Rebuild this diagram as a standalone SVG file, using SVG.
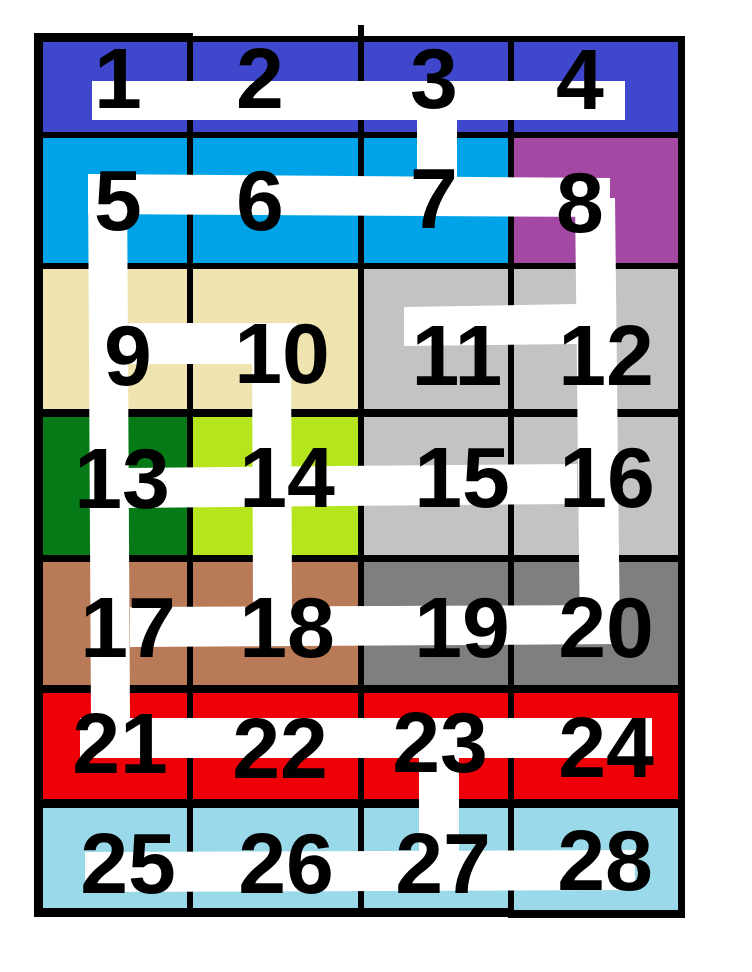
<svg xmlns="http://www.w3.org/2000/svg" width="752" height="972" viewBox="0 0 752 972">
<style>
.n{font-family:"Liberation Sans",Arial,sans-serif;font-weight:bold;font-size:86px;fill:#000;text-anchor:middle}
.ln{fill:#000}
.w{fill:#fff}
</style>
<rect width="752" height="972" fill="#fff"/>
<g id="cells">
<g id="c1"><rect x="38" y="39" width="152" height="96" fill="#3F48CC"/></g>
<g id="c2"><rect x="190" y="39" width="171" height="96" fill="#3F48CC"/></g>
<g id="c3"><rect x="361" y="39" width="150" height="96" fill="#3F48CC"/></g>
<g id="c4"><rect x="511" y="39" width="171" height="96" fill="#3F48CC"/></g>
<g id="c5"><rect x="38" y="135" width="152" height="131" fill="#00A2E8"/></g>
<g id="c6"><rect x="190" y="135" width="171" height="131" fill="#00A2E8"/></g>
<g id="c7"><rect x="361" y="135" width="150" height="131" fill="#00A2E8"/></g>
<g id="c8"><rect x="511" y="135" width="171" height="131" fill="#A349A4"/></g>
<g id="c9"><rect x="38" y="266" width="152" height="147" fill="#EFE4B0"/></g>
<g id="c10"><rect x="190" y="266" width="171" height="147" fill="#EFE4B0"/></g>
<g id="c11"><rect x="361" y="266" width="150" height="147" fill="#C3C3C3"/></g>
<g id="c12"><rect x="511" y="266" width="171" height="147" fill="#C3C3C3"/></g>
<g id="c13"><rect x="38" y="413" width="152" height="145" fill="#067A17"/></g>
<g id="c14"><rect x="190" y="413" width="171" height="145" fill="#B5E61D"/></g>
<g id="c15"><rect x="361" y="413" width="150" height="145" fill="#C3C3C3"/></g>
<g id="c16"><rect x="511" y="413" width="171" height="145" fill="#C3C3C3"/></g>
<g id="c17"><rect x="38" y="558" width="152" height="131" fill="#B97A57"/></g>
<g id="c18"><rect x="190" y="558" width="171" height="131" fill="#B97A57"/></g>
<g id="c19"><rect x="361" y="558" width="150" height="131" fill="#7F7F7F"/></g>
<g id="c20"><rect x="511" y="558" width="171" height="131" fill="#7F7F7F"/></g>
<g id="c21"><rect x="38" y="689" width="152" height="114" fill="#EF0008"/></g>
<g id="c22"><rect x="190" y="689" width="171" height="114" fill="#EF0008"/></g>
<g id="c23"><rect x="361" y="689" width="150" height="114" fill="#EF0008"/></g>
<g id="c24"><rect x="511" y="689" width="171" height="114" fill="#EF0008"/></g>
<g id="c25"><rect x="38" y="803" width="152" height="109" fill="#99D9EA"/></g>
<g id="c26"><rect x="190" y="803" width="171" height="109" fill="#99D9EA"/></g>
<g id="c27"><rect x="361" y="803" width="150" height="109" fill="#99D9EA"/></g>
<g id="c28"><rect x="511" y="803" width="171" height="109" fill="#99D9EA"/></g>
</g>
<g id="grid">
<rect class="ln" x="34" y="33" width="159" height="9"/>
<rect class="ln" x="190" y="36" width="495" height="6"/>
<rect class="ln" x="358" y="25" width="6" height="17"/>
<rect class="ln" x="34" y="33" width="9" height="884"/>
<rect class="ln" x="187" y="36" width="6" height="880"/>
<rect class="ln" x="358" y="36" width="6" height="880"/>
<rect class="ln" x="508" y="36" width="6" height="880"/>
<rect class="ln" x="678" y="36" width="7" height="882"/>
<rect class="ln" x="34" y="132" width="651" height="6"/>
<rect class="ln" x="34" y="263" width="651" height="6"/>
<rect class="ln" x="34" y="409" width="651" height="8"/>
<rect class="ln" x="34" y="555" width="651" height="7"/>
<rect class="ln" x="34" y="685" width="651" height="8"/>
<rect class="ln" x="34" y="799" width="651" height="9"/>
<rect class="ln" x="34" y="908" width="478" height="9"/>
<rect class="ln" x="508" y="910" width="177" height="8"/>
</g>
<g id="connectors">
<rect class="w" x="92" y="81" width="533" height="39"/>
<rect class="w" x="417" y="118" width="40" height="60"/>
<polygon class="w" points="88,174 610,178 610,217 88,214"/>
<polygon class="w" points="575,198 615,198 620,643 580,643"/>
<polygon class="w" points="88,174 127,174 130,720 91,720"/>
<rect class="w" x="127" y="323" width="170" height="41"/>
<polygon class="w" points="252,323 291,323 292,608 253,608"/>
<polygon class="w" points="404,307 577,304 577,344 404,346"/>
<polygon class="w" points="127,468 577,464 577,504 127,508"/>
<polygon class="w" points="130,607 620,605 620,644 130,647"/>
<rect class="w" x="80" y="718" width="572" height="40"/>
<rect class="w" x="419" y="756" width="40" height="96"/>
<polygon class="w" points="85,852 635,850 635,890 85,892"/>
</g>
<g id="labels">
<text class="n" x="118" y="108">1</text>
<text class="n" x="260" y="108">2</text>
<text class="n" x="434" y="108">3</text>
<text class="n" x="580" y="109">4</text>
<text class="n" x="118" y="230">5</text>
<text class="n" x="260" y="230">6</text>
<text class="n" x="434" y="228">7</text>
<text class="n" x="580" y="232">8</text>
<text class="n" x="128" y="385">9</text>
<text class="n" x="282" y="383">10</text>
<text class="n" x="457" y="385">11</text>
<text class="n" x="606" y="385">12</text>
<text class="n" x="122" y="508">13</text>
<text class="n" x="287" y="507">14</text>
<text class="n" x="462" y="507">15</text>
<text class="n" x="607" y="507">16</text>
<text class="n" x="128" y="657">17</text>
<text class="n" x="287" y="657">18</text>
<text class="n" x="462" y="657">19</text>
<text class="n" x="606" y="657">20</text>
<text class="n" x="120" y="773">21</text>
<text class="n" x="280" y="778">22</text>
<text class="n" x="440" y="772">23</text>
<text class="n" x="606" y="777">24</text>
<text class="n" x="128" y="893">25</text>
<text class="n" x="286" y="893">26</text>
<text class="n" x="443" y="893">27</text>
<text class="n" x="605" y="890">28</text>
</g>
</svg>
